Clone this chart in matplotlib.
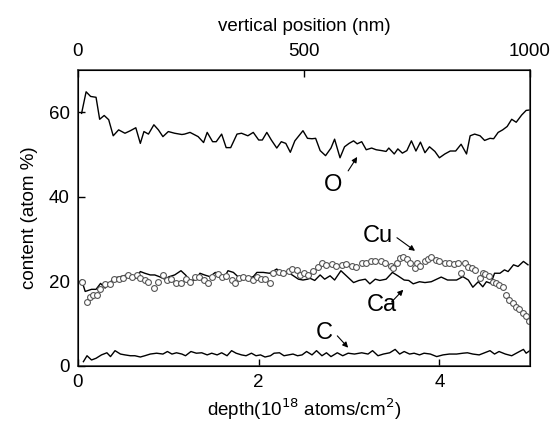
import matplotlib
matplotlib.use('Agg')
import matplotlib.pyplot as plt

plt.rcParams['font.family'] = ['Liberation Sans', 'DejaVu Sans']

# depth in 1e18 atoms/cm2, content in atom %
o_depth = [0.04, 0.09, 0.14, 0.20, 0.24, 0.29, 0.34, 0.39, 0.45, 0.52, 0.58, 0.64, 0.69, 0.73,
           0.78, 0.84, 0.89, 0.94, 1.00, 1.07, 1.15, 1.18, 1.24, 1.33, 1.39, 1.43, 1.49, 1.53,
           1.59, 1.64, 1.69, 1.76, 1.81, 1.88, 1.94, 2.00, 2.04, 2.09, 2.14, 2.20, 2.25, 2.30,
           2.35, 2.40, 2.49, 2.54, 2.59, 2.63, 2.68, 2.74, 2.80, 2.84, 2.90, 2.95, 3.00, 3.05,
           3.09, 3.14, 3.19, 3.25, 3.30, 3.36, 3.41, 3.44, 3.50, 3.54, 3.59, 3.64, 3.69, 3.74,
           3.79, 3.84, 3.89, 3.95, 4.00, 4.06, 4.12, 4.18, 4.24, 4.30, 4.34, 4.39, 4.45, 4.50,
           4.56, 4.60, 4.65, 4.70, 4.75, 4.80, 4.85, 4.91, 4.96, 5.00]
o_content = [59.7, 64.8, 63.7, 63.5, 58.3, 59.2, 58.2, 54.4, 55.8, 55.0, 55.6, 56.3, 52.6, 55.4,
             54.8, 57.0, 55.8, 54.2, 55.4, 55.0, 54.7, 54.8, 55.2, 54.2, 52.8, 55.2, 53.0, 53.0,
             54.8, 51.6, 51.6, 54.8, 55.0, 54.4, 55.2, 53.4, 53.4, 55.2, 53.4, 51.5, 53.0, 52.6,
             50.5, 53.2, 55.6, 53.8, 53.7, 53.8, 50.9, 49.7, 51.5, 53.6, 49.2, 51.8, 52.6, 53.2,
             52.5, 53.0, 51.1, 51.5, 51.1, 50.9, 50.7, 51.5, 50.1, 51.3, 50.3, 50.9, 53.2, 50.8,
             52.9, 50.4, 51.8, 50.7, 49.2, 50.1, 50.8, 50.8, 52.4, 50.1, 54.4, 54.8, 54.4, 53.3,
             53.8, 53.7, 55.2, 55.8, 56.6, 58.3, 57.6, 59.3, 60.4, 60.5]

ca_depth = [0.04, 0.08, 0.15, 0.20, 0.25, 0.30, 0.35, 0.39, 0.47, 0.54, 0.59, 0.64, 0.69, 0.74,
            0.80, 0.85, 0.90, 0.96, 1.01, 1.07, 1.14, 1.19, 1.24, 1.30, 1.35, 1.40, 1.46, 1.52,
            1.57, 1.61, 1.66, 1.72, 1.77, 1.83, 1.88, 1.94, 1.98, 2.05, 2.12, 2.20, 2.25, 2.31,
            2.37, 2.44, 2.49, 2.54, 2.57, 2.62, 2.68, 2.73, 2.79, 2.84, 2.91, 2.98, 3.05, 3.11,
            3.18, 3.23, 3.29, 3.34, 3.41, 3.48, 3.54, 3.61, 3.66, 3.71, 3.78, 3.84, 3.91, 3.97,
            4.02, 4.09, 4.19, 4.26, 4.32, 4.37, 4.43, 4.48, 4.52, 4.57, 4.61, 4.67, 4.72, 4.76,
            4.82, 4.87, 4.93, 4.98]
ca_content = [20.3, 17.6, 18.1, 18.1, 19.5, 18.4, 19.5, 20.7, 21.1, 21.5, 21.1, 20.7, 22.3, 21.9,
              21.5, 21.5, 21.1, 20.5, 21.1, 21.5, 22.5, 21.5, 20.2, 20.3, 21.9, 21.5, 21.1, 22.1,
              21.3, 20.5, 22.5, 22.1, 21.1, 21.1, 20.7, 21.1, 22.1, 22.1, 21.9, 22.9, 21.9, 22.3,
              21.5, 20.5, 20.3, 20.5, 20.7, 20.2, 21.5, 20.5, 21.3, 20.3, 22.5, 21.1, 19.7, 20.2,
              20.5, 19.4, 20.5, 20.2, 20.5, 22.1, 21.3, 20.3, 20.2, 19.4, 19.9, 19.7, 19.9, 20.5,
              21.0, 20.3, 20.3, 21.1, 20.3, 18.6, 19.9, 18.7, 19.9, 19.5, 21.9, 21.9, 22.7, 22.3,
              23.9, 23.5, 24.7, 23.9]

cu_depth = [0.04, 0.10, 0.13, 0.17, 0.21, 0.24, 0.30, 0.35, 0.40, 0.45, 0.50, 0.55, 0.60, 0.65,
            0.69, 0.74, 0.78, 0.84, 0.89, 0.94, 0.99, 1.03, 1.09, 1.14, 1.20, 1.24, 1.29, 1.34,
            1.39, 1.44, 1.48, 1.55, 1.59, 1.64, 1.70, 1.74, 1.78, 1.83, 1.88, 1.94, 1.98, 2.03,
            2.07, 2.12, 2.16, 2.22, 2.27, 2.33, 2.37, 2.42, 2.46, 2.50, 2.55, 2.60, 2.66, 2.70,
            2.75, 2.81, 2.86, 2.92, 2.97, 3.03, 3.08, 3.14, 3.19, 3.24, 3.29, 3.35, 3.40, 3.46,
            3.49, 3.53, 3.56, 3.60, 3.64, 3.67, 3.73, 3.75, 3.78, 3.84, 3.87, 3.91, 3.96, 4.00,
            4.06, 4.11, 4.16, 4.21, 4.24, 4.28, 4.32, 4.36, 4.39, 4.45, 4.48, 4.51, 4.55, 4.59,
            4.63, 4.66, 4.70, 4.74, 4.77, 4.81, 4.85, 4.88, 4.92, 4.96, 4.99]
cu_content = [19.9, 15.2, 16.4, 16.8, 16.8, 18.1, 19.4, 19.4, 20.5, 20.5, 20.7, 21.5, 20.9, 21.5,
              20.7, 20.3, 19.9, 18.4, 19.9, 21.5, 20.3, 20.5, 19.5, 19.5, 20.5, 19.9, 21.0, 21.1,
              20.3, 19.7, 21.0, 21.7, 21.0, 21.3, 20.3, 19.5, 20.7, 21.0, 20.7, 20.3, 21.0, 20.5,
              20.5, 19.5, 21.9, 22.3, 21.9, 22.5, 23.0, 22.7, 21.5, 21.9, 21.5, 22.5, 23.3, 24.3,
              23.9, 24.1, 23.6, 23.9, 24.1, 23.6, 23.3, 24.3, 24.4, 24.7, 24.7, 24.7, 24.3, 23.6,
              23.1, 24.4, 25.5, 25.8, 25.2, 24.3, 23.1, 24.3, 23.5, 24.7, 25.2, 25.7, 25.1, 24.9,
              24.4, 24.3, 24.1, 24.4, 21.9, 24.3, 23.3, 23.1, 22.7, 20.7, 21.9, 21.7, 21.3, 19.9,
              19.5, 19.1, 18.7, 16.8, 15.6, 14.8, 14.0, 13.4, 12.5, 11.7, 10.7]

c_depth = [0.06, 0.10, 0.15, 0.20, 0.26, 0.32, 0.36, 0.41, 0.47, 0.52, 0.58, 0.63, 0.69, 0.74,
           0.80, 0.87, 0.94, 0.99, 1.04, 1.09, 1.15, 1.19, 1.25, 1.31, 1.37, 1.43, 1.48, 1.54,
           1.59, 1.65, 1.70, 1.75, 1.81, 1.86, 1.92, 1.97, 2.02, 2.07, 2.13, 2.17, 2.23, 2.28,
           2.33, 2.38, 2.43, 2.48, 2.53, 2.59, 2.64, 2.70, 2.75, 2.80, 2.87, 2.93, 2.99, 3.06,
           3.14, 3.21, 3.26, 3.32, 3.38, 3.45, 3.51, 3.56, 3.61, 3.67, 3.72, 3.78, 3.83, 3.90,
           3.97, 4.04, 4.11, 4.19, 4.26, 4.31, 4.37, 4.44, 4.50, 4.56, 4.61, 4.66, 4.73, 4.80,
           4.86, 4.93, 4.96, 5.00]
c_content = [1.0, 2.4, 1.4, 1.8, 2.6, 3.1, 2.2, 3.6, 2.8, 2.6, 2.4, 2.4, 2.1, 2.4,
             2.8, 3.0, 2.8, 3.4, 2.8, 3.1, 2.8, 2.4, 3.4, 3.0, 3.1, 2.6, 3.0, 2.6,
             3.1, 2.4, 3.6, 3.0, 2.6, 2.4, 3.0, 2.4, 2.6, 2.1, 2.4, 3.0, 3.1, 2.4,
             2.6, 2.8, 2.4, 2.6, 3.4, 2.6, 3.6, 2.4, 3.1, 2.2, 3.1, 2.4, 3.0, 2.8,
             3.1, 2.8, 3.6, 2.4, 2.8, 3.1, 3.9, 2.8, 3.4, 2.8, 3.0, 2.6, 3.0, 2.8,
             2.2, 2.6, 2.8, 2.8, 3.0, 3.1, 2.8, 2.6, 3.1, 3.6, 2.8, 3.4, 2.8, 2.4,
             3.1, 3.9, 3.0, 3.6]

fig = plt.figure(figsize=(5.53, 4.23), dpi=100)
ax = fig.add_axes([0.141, 0.135, 0.817, 0.700])

ax.plot(o_depth, o_content, color='black', lw=1.0)
ax.plot(ca_depth, ca_content, color='black', lw=1.0)
ax.plot(c_depth, c_content, color='black', lw=1.0)
ax.plot(cu_depth, cu_content, linestyle='None', marker='o', markersize=4.2,
        markerfacecolor='white', markeredgecolor='#555555', markeredgewidth=0.8)

ax.set_xlim(0, 5)
ax.set_ylim(0, 70)
ax.set_xticks([0, 2, 4])
ax.set_yticks([0, 20, 40, 60])
ax.tick_params(direction='in', length=5, width=1, labelsize=13.5, pad=6)
ax.set_xlabel('depth(10$^{18}$ atoms/cm$^{2}$)', fontsize=13.5, labelpad=4)
ax.set_ylabel('content (atom %)', fontsize=13.5, labelpad=8)
for sp in ax.spines.values():
    sp.set_linewidth(1.1)
    sp.set_color('#333333')

# top axis: vertical position
ax2 = ax.twiny()
ax2.set_xlim(0, 1000)
ax2.set_xticks([0, 500, 1000])
ax2.tick_params(direction='in', length=5, width=1, labelsize=13.5, pad=7)
ax2.set_xlabel('vertical position (nm)', fontsize=13.5, labelpad=9)

# element labels with arrows
arw = dict(arrowstyle='-|>', lw=0.8, color='black', mutation_scale=8, shrinkA=0, shrinkB=0)
ax.text(2.82, 42.8, 'O', fontsize=17, ha='center', va='center')
ax.annotate('', xy=(3.09, 49.4), xytext=(2.99, 46.1), arrowprops=arw)
ax.text(3.32, 30.7, 'Cu', fontsize=17, ha='center', va='center')
ax.annotate('', xy=(3.73, 27.2), xytext=(3.53, 30.3), arrowprops=arw)
ax.text(3.36, 14.4, 'Ca', fontsize=17, ha='center', va='center')
ax.annotate('', xy=(3.60, 18.0), xytext=(3.47, 15.1), arrowprops=arw)
ax.text(2.73, 7.8, 'C', fontsize=17, ha='center', va='center')
ax.annotate('', xy=(2.99, 4.3), xytext=(2.87, 7.1), arrowprops=arw)

plt.savefig('out.png', dpi=100)
